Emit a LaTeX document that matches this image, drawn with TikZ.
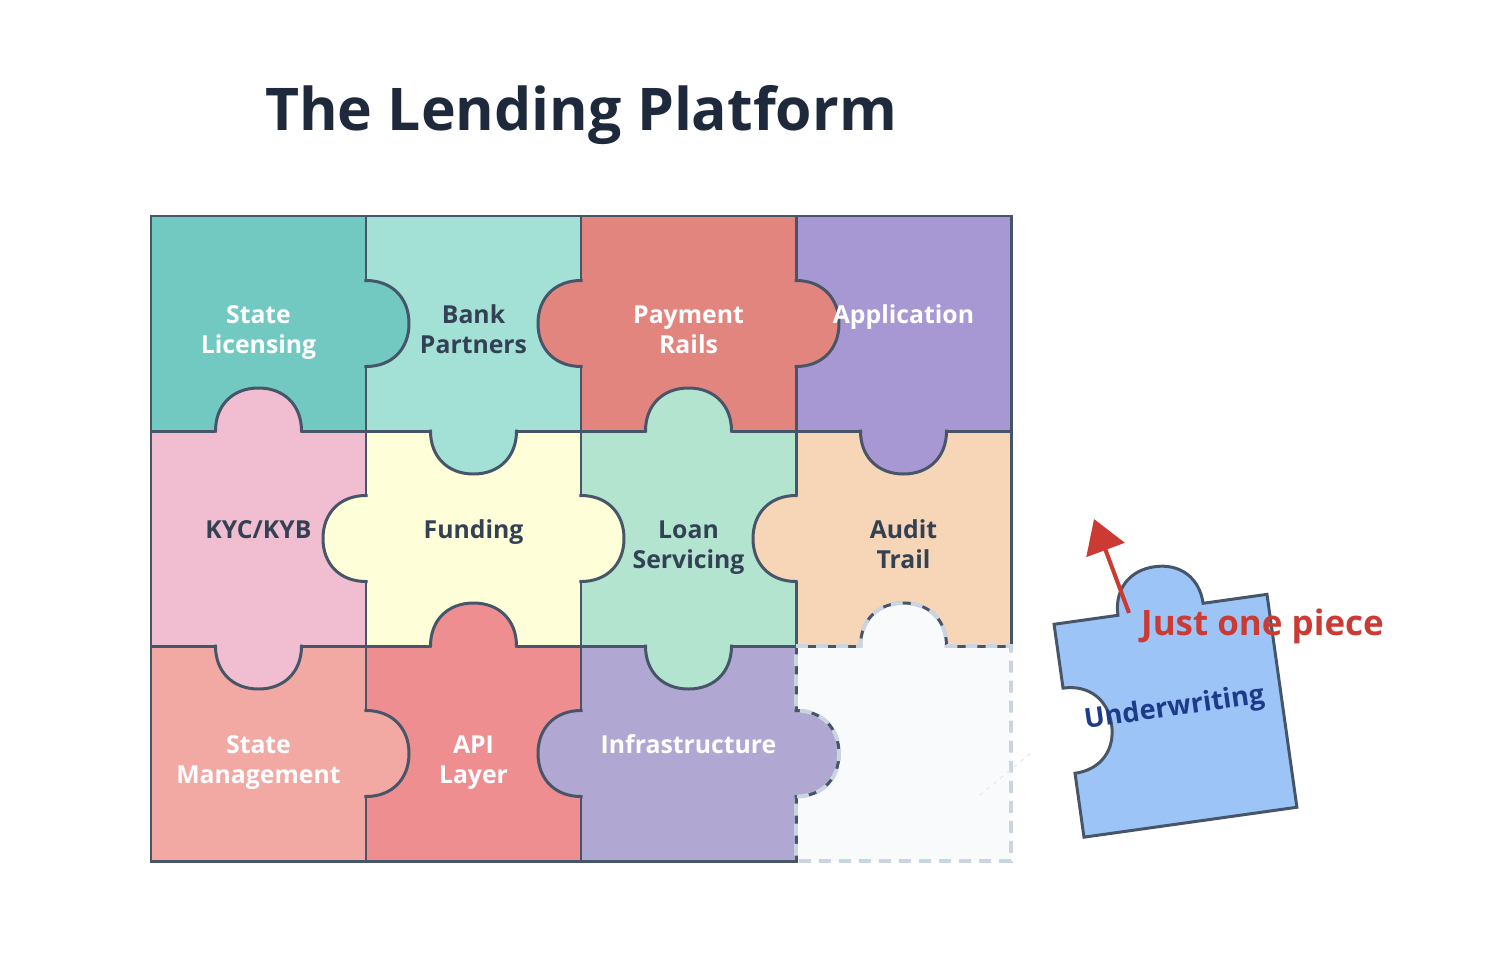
\documentclass[tikz,border=0pt]{standalone}
\usepackage{fontspec}
\setmainfont{Open Sans}
\usetikzlibrary{arrows.meta}

\definecolor{edge}{HTML}{475569}
\definecolor{ink}{HTML}{334155}
\definecolor{titleink}{HTML}{1E293B}
\definecolor{licensing}{HTML}{72C9C1}
\definecolor{bank}{HTML}{A3E0D6}
\definecolor{payment}{HTML}{E3857F}
\definecolor{application}{HTML}{A798D4}
\definecolor{kyc}{HTML}{F0BED0}
\definecolor{funding}{HTML}{FEFED8}
\definecolor{servicing}{HTML}{B3E4D0}
\definecolor{audit}{HTML}{F7D5B7}
\definecolor{statemgmt}{HTML}{F2A9A3}
\definecolor{api}{HTML}{EF8E91}
\definecolor{infra}{HTML}{B0A7D2}
\definecolor{slot}{HTML}{F8FAFC}
\definecolor{slotdash}{HTML}{CBD5E1}
\definecolor{underwriting}{HTML}{9DC4F7}
\definecolor{uwink}{HTML}{1E3A8A}
\definecolor{alert}{HTML}{CC3B33}

\begin{document}
\begin{tikzpicture}[
    x=4.3cm, y=4.3cm,
    piece/.style={draw=edge, line width=1.7pt},
    piecetext/.style={anchor=base, align=center, font=\fontsize{14.1}{17}\selectfont\bfseries, inner sep=0pt},
    whitetext/.style={piecetext, text=white},
    darktext/.style={piecetext, text=ink},
    twoline/.style={yshift=-17pt},
    slotline/.style={draw=slotdash, line width=2.2pt, dash pattern=on 6.8pt off 4.6pt}
]

% Puzzle tab: neck on the x axis, bulge towards +y
\tikzset{
    tab/.pic={
        \path[pic actions, draw=none] (-0.2,-0.02) -- (-0.2,0)
            .. controls (-0.2,0.12) and (-0.12,0.2) .. (0,0.2)
            .. controls (0.12,0.2) and (0.2,0.12) .. (0.2,0) -- (0.2,-0.02) -- cycle;
        \path[piece, pic actions, fill=none] (-0.2,-0.007) -- (-0.2,0)
            .. controls (-0.2,0.12) and (-0.12,0.2) .. (0,0.2)
            .. controls (0.12,0.2) and (0.2,0.12) .. (0.2,0) -- (0.2,-0.007);
    }
}

\useasboundingbox (-0.7023,-3.4884) rectangle (6.2093,1.0047);

\node[anchor=base, text=titleink, font=\fontsize{33.5}{40}\selectfont\bfseries] (Title) at (2,0.4) {The Lending Platform};

% Empty slot
\fill[slot] (3,-2) rectangle (4,-3);

% Cells
\draw[piece, fill=licensing] (0,0) rectangle (1,-1);
\draw[piece, fill=bank] (1,0) rectangle (2,-1);
\draw[piece, fill=payment] (2,0) rectangle (3,-1);
\draw[piece, fill=application] (3,0) rectangle (4,-1);
\draw[piece, fill=kyc] (0,-1) rectangle (1,-2);
\draw[piece, fill=funding] (1,-1) rectangle (2,-2);
\draw[piece, fill=servicing] (2,-1) rectangle (3,-2);
\draw[piece, fill=audit] (3,-1) rectangle (4,-2);
\draw[piece, fill=statemgmt] (0,-2) rectangle (1,-3);
\draw[piece, fill=api] (1,-2) rectangle (2,-3);
\draw[piece, fill=infra] (2,-2) rectangle (3,-3);

% Tabs across vertical seams
\pic[fill=licensing, rotate=-90] at (1,-0.5) {tab};
\pic[fill=payment, rotate=90] at (2,-0.5) {tab};
\pic[fill=payment, rotate=-90] at (3,-0.5) {tab};
\pic[fill=funding, rotate=90] at (1,-1.5) {tab};
\pic[fill=funding, rotate=-90] at (2,-1.5) {tab};
\pic[fill=audit, rotate=90] at (3,-1.5) {tab};
\pic[fill=statemgmt, rotate=-90] at (1,-2.5) {tab};
\pic[fill=infra, rotate=90] at (2,-2.5) {tab};
\pic[fill=infra, rotate=-90] at (3,-2.5) {tab};

% Tabs across horizontal seams
\pic[fill=kyc] at (0.5,-1) {tab};
\pic[fill=bank, rotate=180] at (1.5,-1) {tab};
\pic[fill=servicing] at (2.5,-1) {tab};
\pic[fill=application, rotate=180] at (3.5,-1) {tab};
\pic[fill=kyc, rotate=180] at (0.5,-2) {tab};
\pic[fill=api] at (1.5,-2) {tab};
\pic[fill=servicing, rotate=180] at (2.5,-2) {tab};
\pic[fill=slot] at (3.5,-2) {tab};

% Dashed outline of the missing piece
\path[slotline] (3,-2) -- (3.3,-2)
    .. controls (3.3,-1.88) and (3.38,-1.8) .. (3.5,-1.8)
    .. controls (3.62,-1.8) and (3.7,-1.88) .. (3.7,-2) -- (4,-2) -- (4,-3) -- (3,-3) -- (3,-2.7)
    .. controls (3.12,-2.7) and (3.2,-2.62) .. (3.2,-2.5)
    .. controls (3.2,-2.38) and (3.12,-2.3) .. (3,-2.3) -- cycle;

\node[whitetext, twoline] (LicensingLabel) at (0.5,-0.5) {State\\Licensing};
\node[darktext, twoline] (BankLabel) at (1.5,-0.5) {Bank\\Partners};
\node[whitetext, twoline] (PaymentLabel) at (2.5,-0.5) {Payment\\Rails};
\node[whitetext] (ApplicationLabel) at (3.5,-0.5) {Application};
\node[darktext] (KycLabel) at (0.5,-1.5) {KYC/KYB};
\node[darktext] (FundingLabel) at (1.5,-1.5) {Funding};
\node[darktext, twoline] (ServicingLabel) at (2.5,-1.5) {Loan\\Servicing};
\node[darktext, twoline] (AuditLabel) at (3.5,-1.5) {Audit\\Trail};
\node[whitetext, twoline] (StateMgmtLabel) at (0.5,-2.5) {State\\Management};
\node[whitetext, twoline] (ApiLabel) at (1.5,-2.5) {API\\Layer};
\node[whitetext] (InfraLabel) at (2.5,-2.5) {Infrastructure};

% Motion trail
\coordinate (TrailStart) at (3.856,-2.693);
\coordinate (TrailEnd) at (4.098,-2.493);
\draw[slotdash!50, line width=0.8pt, dash pattern=on 2pt off 3pt] (TrailStart) -- (TrailEnd);

% Loose piece
\begin{scope}[shift={(4.765,-2.3244)}, rotate=8]
    \draw[piece, fill=underwriting] (-0.5,0.5) -- (-0.2,0.5)
        .. controls (-0.2,0.62) and (-0.12,0.7) .. (0,0.7)
        .. controls (0.12,0.7) and (0.2,0.62) .. (0.2,0.5) -- (0.5,0.5) -- (0.5,-0.5) -- (-0.5,-0.5) -- (-0.5,-0.2)
        .. controls (-0.38,-0.2) and (-0.3,-0.12) .. (-0.3,0)
        .. controls (-0.3,0.12) and (-0.38,0.2) .. (-0.5,0.2) -- cycle;
    \node[piecetext, text=uwink, rotate=8, font=\fontsize{15.5}{19}\selectfont\bfseries] (UnderwritingLabel) at (0,0) {Underwriting};
\end{scope}

\node[anchor=base, text=alert, font=\fontsize{19.9}{24}\selectfont\bfseries] (Note) at (5.1698,-1.9488) {Just one piece};

\coordinate (NoteTail) at (4.549,-1.8465);
\coordinate (NoteTip) at (4.386,-1.4093);
\draw[alert, line width=2.3pt, -{Triangle[length=18.8pt, width=22.8pt]}] (NoteTail) -- (NoteTip);

\end{tikzpicture}
\end{document}
